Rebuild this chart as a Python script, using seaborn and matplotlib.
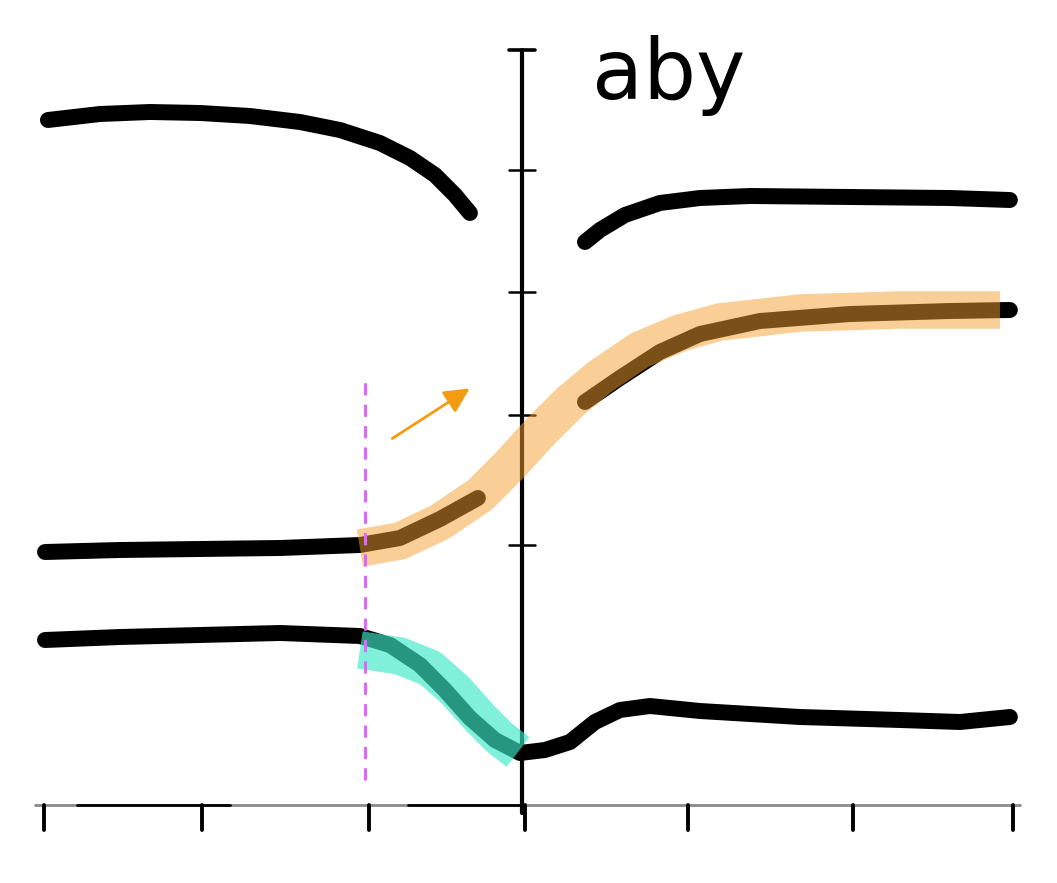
import numpy as np
import matplotlib
matplotlib.use("Agg")
import matplotlib.pyplot as plt
import seaborn as sns

sns.set_style("white")

# curve data (x in tick units, y in axis units)
top_left_x = [-2.948, -2.628, -2.32, -2.012, -1.705, -1.397, -1.151, -0.905, -0.72, -0.566, -0.443, -0.351]
top_left_y = [5.48, 5.528, 5.544, 5.536, 5.512, 5.464, 5.40, 5.296, 5.176, 5.04, 4.88, 4.736]

top_right_x = [0.357, 0.449, 0.603, 0.818, 1.065, 1.372, 1.988, 2.603, 2.972]
top_right_y = [4.504, 4.6, 4.72, 4.816, 4.856, 4.872, 4.864, 4.856, 4.84]

mid_a_x = [-2.966, -2.505, -2.012, -1.52, -1.028, -0.782, -0.535, -0.302]
mid_a_y = [2.024, 2.04, 2.048, 2.056, 2.08, 2.136, 2.288, 2.456]

mid_b_x = [0.357, 0.572, 0.818, 1.065, 1.434, 1.988, 2.603, 2.972]
mid_b_y = [3.224, 3.416, 3.624, 3.768, 3.872, 3.928, 3.952, 3.96]

orange_x = [-1.028, -0.782, -0.535, -0.289, -0.105, 0.08, 0.265, 0.449, 0.695, 0.942, 1.188, 1.68, 2.295, 2.911]
orange_y = [2.056, 2.112, 2.264, 2.48, 2.72, 2.984, 3.224, 3.424, 3.64, 3.776, 3.864, 3.936, 3.96, 3.96]

low_x = [-2.966, -2.505, -2.012, -1.52, -1.028, -0.843, -0.658, -0.505, -0.351, -0.197, -0.043,
         0.111, 0.265, 0.418, 0.572, 0.757, 1.065, 1.68, 2.295, 2.665, 2.972]
low_y = [1.32, 1.344, 1.36, 1.376, 1.352, 1.28, 1.12, 0.92, 0.696, 0.52, 0.416,
         0.44, 0.504, 0.664, 0.76, 0.792, 0.752, 0.704, 0.68, 0.664, 0.704]

cyan_x = [-1.028, -0.782, -0.597, -0.443, -0.289, -0.166, -0.055]
cyan_y = [1.24, 1.192, 1.096, 0.92, 0.696, 0.536, 0.424]

x_ticks = [-2.972, -2.0, -0.972, -0.012, 0.991, 2.006, 2.991]
y_ticks = [2.08, 3.12, 4.104, 5.08]

fig = plt.figure(figsize=(10.57, 8.83), dpi=100)
ax = fig.add_axes([0, 0, 1, 1])
ax.set_xlim(-3.243, 3.262)
ax.set_ylim(-0.624, 6.44)
ax.axis("off")

# axes drawn by hand like the sketch
x0 = -0.03
ax.plot([-3.028, 3.034], [0, 0], color="#8a8a8a", lw=2)
ax.plot([-2.77, -1.83], [0, 0], color="black", lw=2)
ax.plot([-0.73, -0.05], [0, 0], color="black", lw=2)
for t in x_ticks:
    ax.plot([t, t], [0, -0.2], color="black", lw=2.8)
ax.plot([x0, x0], [-0.06, 6.04], color="black", lw=3)
for t in y_ticks:
    ax.plot([x0 - 0.08, x0 + 0.08], [t, t], color="black", lw=1.8)
ax.plot([x0 - 0.08, x0 + 0.08], [6.04, 6.04], color="black", lw=2.6)

# black curves
kw = dict(color="black", lw=11.5, solid_capstyle="round", solid_joinstyle="round",
          sort=False, estimator=None, ax=ax)
sns.lineplot(x=top_left_x, y=top_left_y, **kw)
sns.lineplot(x=top_right_x, y=top_right_y, **kw)
sns.lineplot(x=mid_a_x, y=mid_a_y, **kw)
sns.lineplot(x=mid_b_x, y=mid_b_y, **kw)
sns.lineplot(x=low_x, y=low_y, **kw)

# highlight bands
sns.lineplot(x=orange_x, y=orange_y, color="#f5a030", alpha=0.5, lw=27,
             solid_capstyle="butt", solid_joinstyle="round", sort=False, estimator=None, ax=ax)
sns.lineplot(x=cyan_x, y=cyan_y, color="#3de8c8", alpha=0.65, lw=27,
             solid_capstyle="butt", solid_joinstyle="round", sort=False, estimator=None, ax=ax)

# dashed marker and arrow
ax.plot([-0.997, -0.997], [0.2, 3.416], color="#e066ff", lw=2.2, ls=(0, (4, 3)))
ax.annotate("", xy=(-0.338, 3.344), xytext=(-0.843, 2.92),
            arrowprops=dict(arrowstyle="-|>", color="#f39c12", lw=2, mutation_scale=38))

ax.text(0.40, 5.84, "aby", fontsize=60, va="center", ha="left", color="black")

fig.savefig("out.png", dpi=100)
